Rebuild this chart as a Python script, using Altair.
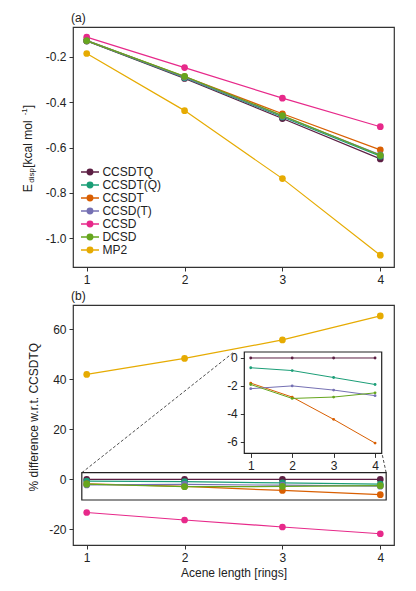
import altair as alt
import pandas as pd

# ---------------- data ----------------
methods = ["CCSDTQ", "CCSDT(Q)", "CCSDT", "CCSD(T)", "CCSD", "DCSD", "MP2"]
colors = ["#5c1f43", "#1b9e77", "#d95f02", "#7570b3", "#e7298a", "#66a61e", "#e6ab02"]
acene = [1, 2, 3, 4]

e_ccsdtq = [-0.130, -0.295, -0.472, -0.650]
e_ccsdt_q = [-0.129, -0.292, -0.465, -0.638]
e_ccsdt = [-0.128, -0.287, -0.451, -0.610]
e_ccsd_t = [-0.127, -0.289, -0.461, -0.632]
e_ccsd = [-0.113, -0.247, -0.382, -0.508]
e_dcsd = [-0.128, -0.286, -0.459, -0.634]
e_mp2 = [-0.185, -0.437, -0.737, -1.075]

p_ccsdtq = [0.0, 0.0, 0.0, 0.0]
p_ccsdt_q = [-0.7, -0.9, -1.4, -1.9]
p_ccsdt = [-1.8, -2.8, -4.4, -6.1]
p_ccsd_t = [-2.2, -2.0, -2.3, -2.7]
p_ccsd = [-13.2, -16.2, -19.0, -21.7]
p_dcsd = [-1.9, -2.9, -2.8, -2.5]
p_mp2 = [42.0, 48.4, 55.8, 65.4]

inset_methods = ["CCSDTQ", "CCSDT(Q)", "CCSDT", "CCSD(T)", "DCSD"]

e_vals = [e_ccsdtq, e_ccsdt_q, e_ccsdt, e_ccsd_t, e_ccsd, e_dcsd, e_mp2]
p_vals = [p_ccsdtq, p_ccsdt_q, p_ccsdt, p_ccsd_t, p_ccsd, p_dcsd, p_mp2]

df_e = pd.DataFrame([{"method": m, "n": n, "E": v}
                     for m, vals in zip(methods, e_vals) for n, v in zip(acene, vals)])
df_p = pd.DataFrame([{"method": m, "n": n, "P": v}
                     for m, vals in zip(methods, p_vals) for n, v in zip(acene, vals)])
df_in = df_p[df_p["method"].isin(inset_methods)]

# zoom box (main coords) and inset domains
zoom_x = [0.95, 4.06]
zoom_y = [-8.2, 2.7]
inset_xdom = [0.845, 4.16]
inset_ydom = [-6.84, 0.43]
conn_from_x = [0.95, 4.06]
conn_from_y = [2.7, 2.7]
conn_to_x = [2.5, 4.017]
conn_to_y = [50.8, 10.4]

FONT = "Liberation Sans"
W, H = 321, 240
DARK = "#333333"
TXT = "#222222"
MINUS = "replace(datum.label, '\u2212', '-')"

color_scale = alt.Scale(domain=methods, range=colors)
x_main = alt.Scale(domain=[0.86, 4.14], nice=False, zero=False)

# color lookup expression for legend symbols
color_expr = "".join(f"datum.value === '{m}' ? '{c}' : " for m, c in zip(methods, colors)) + "'#000'"

# ---------------- panel (a) ----------------
y_top = alt.Scale(domain=[-1.127, -0.068], nice=False, zero=False)
ax_x_top = alt.Axis(values=acene, format="d", title=None)
ax_y_top = alt.Axis(values=[-1.0, -0.8, -0.6, -0.4, -0.2], format=".1f", title=None,
                    labelExpr=MINUS)

sym = "M-1.5,0L1.5,0M-0.45,0A0.45,0.45,0,1,0,0.45,0A0.45,0.45,0,1,0,-0.45,0Z"
legend = alt.Legend(orient="none", legendX=10, legendY=138, title=None,
                    symbolType=sym, symbolSize=144, symbolStrokeWidth=1.5,
                    symbolOpacity=1, labelFontSize=12, labelFont=FONT,
                    labelColor=TXT, labelOffset=5.4, rowPadding=-0.65,
                    padding=0,
                    symbolFillColor=alt.ExprRef(color_expr),
                    symbolStrokeColor=alt.ExprRef(color_expr))

lines_top = alt.Chart(df_e).mark_line(strokeWidth=1.2).encode(
    x=alt.X("n:Q", scale=x_main, axis=ax_x_top),
    y=alt.Y("E:Q", scale=y_top, axis=ax_y_top),
    color=alt.Color("method:N", scale=color_scale, legend=legend),
)
points_top = alt.Chart(df_e).mark_point(filled=True, size=45, opacity=1).encode(
    x=alt.X("n:Q", scale=x_main, axis=ax_x_top),
    y=alt.Y("E:Q", scale=y_top, axis=ax_y_top),
    color=alt.Color("method:N", scale=color_scale, legend=legend),
)

one = pd.DataFrame({"a": [0]})


def piece(txt, size, px, py):
    return alt.Chart(one).mark_text(text=txt, fontSize=size, angle=270, align="left",
                                    baseline="alphabetic", font=FONT, color=TXT).encode(
        x=alt.value(px), y=alt.value(py))


# y-axis title of panel (a): E_disp [kcal mol^-1] built from pieces
title_pieces = [
    piece("E", 12, -41.3, 165.3),
    piece("disp", 8, -39.5, 155.8),
    piece("\u00a0[kcal mol", 12, -41.3, 140.8),
    piece("-1", 8, -46.3, 88.3),
    piece("]", 12, -41.3, 81.3),
]

top = alt.layer(lines_top, points_top, *title_pieces).properties(
    width=W, height=H,
    title=alt.TitleParams("(a)", anchor="start", frame="group", fontSize=12,
                          fontWeight="normal", font=FONT, offset=2, dx=-2, color=TXT),
)

# ---------------- panel (b) ----------------
y_bot = alt.Scale(domain=[-26.2, 69.75], nice=False, zero=False)
ax_x_bot = alt.Axis(values=acene, format="d", title="Acene length [rings]", titlePadding=4)
ax_y_bot = alt.Axis(values=[-20, 0, 20, 40, 60], format="d",
                    title="% difference w.r.t. CCSDTQ", labelExpr=MINUS,
                    titlePadding=8, titleY=111.7)

lines_bot = alt.Chart(df_p).mark_line(strokeWidth=1.2).encode(
    x=alt.X("n:Q", scale=x_main, axis=ax_x_bot),
    y=alt.Y("P:Q", scale=y_bot, axis=ax_y_bot),
    color=alt.Color("method:N", scale=color_scale, legend=None),
)
points_bot = alt.Chart(df_p).mark_point(filled=True, size=45, opacity=1).encode(
    x=alt.X("n:Q", scale=x_main, axis=ax_x_bot),
    y=alt.Y("P:Q", scale=y_bot, axis=ax_y_bot),
    color=alt.Color("method:N", scale=color_scale, legend=None),
)
zoom_df = pd.DataFrame({"x0": [zoom_x[0]], "x1": [zoom_x[1]], "y0": [zoom_y[0]], "y1": [zoom_y[1]]})
zoom_box = alt.Chart(zoom_df).mark_rect(fillOpacity=0, stroke=TXT, strokeWidth=1.2).encode(
    x=alt.X("x0:Q", scale=x_main, axis=ax_x_bot), x2="x1:Q",
    y=alt.Y("y0:Q", scale=y_bot, axis=ax_y_bot), y2="y1:Q",
)
conn_df = pd.DataFrame({"x0": conn_from_x, "y0": conn_from_y, "x1": conn_to_x, "y1": conn_to_y})
connectors = alt.Chart(conn_df).mark_rule(color=TXT, strokeWidth=0.8, strokeDash=[3, 2]).encode(
    x=alt.X("x0:Q", scale=x_main, axis=ax_x_bot), x2="x1:Q",
    y=alt.Y("y0:Q", scale=y_bot, axis=ax_y_bot), y2="y1:Q",
)
main_layer = alt.layer(lines_bot, points_bot, zoom_box, connectors)

# inset
x_in = alt.Scale(domain=inset_xdom, range=[171.3, 308.7], nice=False, zero=False)
y_in = alt.Scale(domain=inset_ydom, range=[148.4, 47.0], nice=False, zero=False)
ax_x_in = alt.Axis(orient="bottom", offset=-(H - 148.4), values=acene, format="d", title=None)
ax_y_in = alt.Axis(orient="left", offset=-171.3, values=[-6, -4, -2, 0], format="d",
                   title=None, labelExpr=MINUS)

frame_df = pd.DataFrame({"x0": [inset_xdom[0]], "x1": [inset_xdom[1]],
                         "y0": [inset_ydom[0]], "y1": [inset_ydom[1]]})
inset_frame = alt.Chart(frame_df).mark_rect(fill="white", stroke=TXT, strokeWidth=1.2).encode(
    x=alt.X("x0:Q", scale=x_in, axis=ax_x_in), x2="x1:Q",
    y=alt.Y("y0:Q", scale=y_in, axis=ax_y_in), y2="y1:Q",
)
inset_lines = alt.Chart(df_in).mark_line(strokeWidth=1).encode(
    x=alt.X("n:Q", scale=x_in, axis=ax_x_in),
    y=alt.Y("P:Q", scale=y_in, axis=ax_y_in),
    color=alt.Color("method:N", scale=color_scale, legend=None),
)
inset_points = alt.Chart(df_in).mark_point(filled=True, size=8, opacity=1).encode(
    x=alt.X("n:Q", scale=x_in, axis=ax_x_in),
    y=alt.Y("P:Q", scale=y_in, axis=ax_y_in),
    color=alt.Color("method:N", scale=color_scale, legend=None),
)
inset_layer = alt.layer(inset_frame, inset_lines, inset_points)

bottom = alt.layer(main_layer, inset_layer).resolve_scale(x="independent", y="independent").properties(
    width=W, height=H,
    title=alt.TitleParams("(b)", anchor="start", frame="group", fontSize=12,
                          fontWeight="normal", font=FONT, offset=2, dx=-2, color=TXT),
)

chart = alt.vconcat(top, bottom, spacing=3).resolve_scale(
    color="independent"
).properties(
    padding={"left": 12, "top": 3, "right": 5, "bottom": 5}
).configure(font=FONT).configure_view(
    stroke=DARK, strokeWidth=1.2
).configure_axis(
    grid=False, domain=False, tickColor=DARK, tickSize=4, tickWidth=1,
    labelFontSize=12, labelFont=FONT, labelColor=TXT, labelPadding=3,
    titleFontSize=12, titleFont=FONT, titleColor=TXT, titleFontWeight="normal",
)

chart.save("out.html", embed_options={"renderer": "svg", "actions": False})
